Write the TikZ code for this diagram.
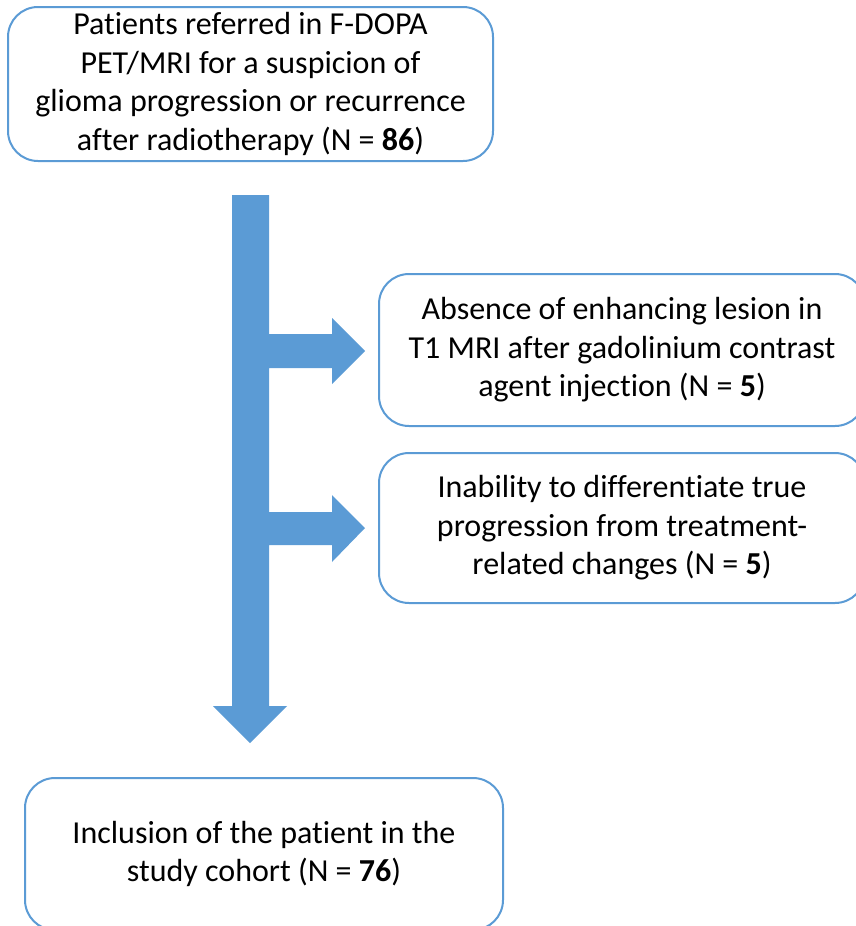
\documentclass[tikz,border=0pt]{standalone}
\usepackage{fontspec}
\setmainfont{Carlito}[Ligatures=NoCommon]
\definecolor{officeblue}{HTML}{5B9BD5}
\begin{document}
\begin{tikzpicture}[x=1pt,y=-1pt,
  box/.style={draw=officeblue, line width=2pt, rounded corners=30pt, fill=white,
    align=center, inner sep=0pt, font=\fontsize{32}{38.5}\selectfont},
  bigarrow/.style={fill=officeblue, draw=none}]
\useasboundingbox (0,0) rectangle (856,926);
\clip (0,0) rectangle (856,926);
\node[box, minimum width=485pt, minimum height=154pt] (top) at (250.5,84)
  {Patients referred in F-DOPA\\PET/MRI for a suspicion of\\glioma progression or recurrence\\after radiotherapy (N = \textbf{86})};
\node[box, minimum width=486pt, minimum height=152pt] (ex1) at (622,350)
  {Absence of enhancing lesion in\\T1 MRI after gadolinium contrast\\agent injection (N = \textbf{5})};
\node[box, minimum width=486pt, minimum height=150pt] (ex2) at (622,528)
  {Inability to differentiate true\\progression from treatment-\\related changes (N = \textbf{5})};
\node[box, minimum width=478pt, minimum height=152pt] (incl) at (264,854)
  {Inclusion of the patient in the\\study cohort (N = \textbf{76})};
\fill[bigarrow] (232,195) -- (269,195) -- (269,334) -- (332,334) -- (332,318) -- (365,351)
  -- (332,384) -- (332,368) -- (269,368) -- (269,512) -- (332,512) -- (332,495)
  -- (365,528) -- (332,562) -- (332,545) -- (269,545) -- (269,706) -- (287,706)
  -- (250,743) -- (213,706) -- (232,706) -- cycle;
\end{tikzpicture}
\end{document}
